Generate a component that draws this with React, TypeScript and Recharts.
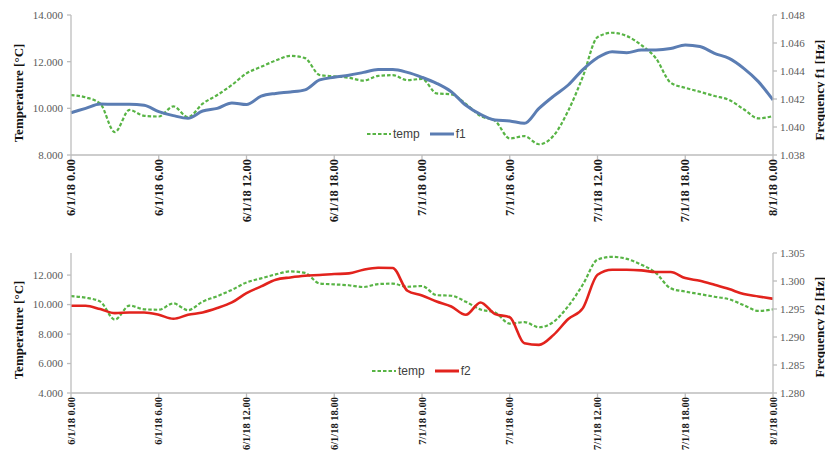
import React from "react";
import { Label, Legend, Line, LineChart, XAxis, YAxis } from "recharts";

const hours = [
  0, 1, 2, 3, 4, 5, 6, 7, 8, 9, 10, 11, 12, 13, 14, 15, 16, 17, 18, 19, 20, 21, 22, 23, 24,
  25, 26, 27, 28, 29, 30, 31, 32, 33, 34, 35, 36, 37, 38, 39, 40, 41, 42, 43, 44, 45, 46, 47, 48,
];

const temp = [
  10.57, 10.47, 10.2, 8.98, 9.93, 9.68, 9.65, 10.08, 9.62, 10.2, 10.57, 11.0, 11.5, 11.78, 12.05,
  12.25, 12.15, 11.43, 11.37, 11.31, 11.19, 11.39, 11.42, 11.21, 11.26, 10.64, 10.6, 10.19, 9.67,
  9.46, 8.71, 8.81, 8.46, 8.83, 9.9, 11.36, 13.05, 13.24, 13.1, 12.71, 12.14, 11.1, 10.88, 10.71,
  10.53, 10.36, 9.96, 9.57, 9.67,
];

const f1 = [
  1.04102, 1.04133, 1.04164, 1.04162, 1.04162, 1.04155, 1.0411, 1.04081, 1.04062, 1.04114, 1.04133,
  1.04172, 1.0416, 1.0422, 1.0424, 1.0425, 1.04265, 1.04336, 1.04355, 1.0437, 1.0439, 1.0441,
  1.0441, 1.0439, 1.04355, 1.04312, 1.04252, 1.04155, 1.0409, 1.0405, 1.04043, 1.04026, 1.04133,
  1.04221, 1.043, 1.0441, 1.04495, 1.04538, 1.04531, 1.0455, 1.0455, 1.0456, 1.04586, 1.04575,
  1.04526, 1.0449, 1.04419, 1.04324, 1.04193,
];

const f2 = [
  1.29557, 1.29557, 1.29498, 1.29426, 1.29438, 1.29438, 1.29396, 1.29325, 1.29396, 1.29438, 1.29516,
  1.29617, 1.29784, 1.29903, 1.30023, 1.30064, 1.30094, 1.30106, 1.30124, 1.30136, 1.30202, 1.30237,
  1.30231, 1.29826, 1.29742, 1.29635, 1.29545, 1.29396, 1.29617, 1.29408, 1.29354, 1.28889,
  1.28859, 1.29038, 1.2932, 1.29516, 1.30112, 1.30202, 1.30202, 1.3019, 1.3016, 1.3016, 1.30052,
  1.30005, 1.29933, 1.29856, 1.29766, 1.29724, 1.29683,
];

const xTicks = [0, 6, 12, 18, 24, 30, 36, 42, 48];
const xTickLabels = [
  "6/1/18 0.00",
  "6/1/18 6.00",
  "6/1/18 12.00",
  "6/1/18 18.00",
  "7/1/18 0.00",
  "7/1/18 6.00",
  "7/1/18 12.00",
  "7/1/18 18.00",
  "8/1/18 0.00",
];

const tempTicksTop = [8, 10, 12, 14];
const f1Ticks = [1.038, 1.04, 1.042, 1.044, 1.046, 1.048];
const tempTicksBottom = [4, 6, 8, 10, 12];
const f2Ticks = [1.28, 1.285, 1.29, 1.295, 1.3, 1.305];

const data = hours.map((h, i) => ({ h, temp: temp[i], f1: f1[i], f2: f2[i] }));

const AXIS = "#bdbdbd";
const GREEN = "#58b445";
const BLUE = "#5b7db3";
const RED = "#e2231d";
const SERIF = "'Liberation Serif', 'Times New Roman', serif";

const yTick = { fontFamily: SERIF, fontSize: 11, fill: "#5a5a5a" };

function makeXTick(fontSize: number) {
  return (props: any) => {
    const { x, y, payload } = props;
    const idx = xTicks.indexOf(payload.value);
    return (
      <text
        x={x}
        y={y}
        transform={`rotate(-90 ${x} ${y})`}
        textAnchor="end"
        dominantBaseline="central"
        fontFamily={SERIF}
        fontWeight="bold"
        fontSize={fontSize}
        fill="#1a1a1a"
      >
        {xTickLabels[idx]}
      </text>
    );
  };
}

function vTitle(x: number, y: number, text: string) {
  return () => (
    <text
      x={x}
      y={y}
      transform={`rotate(-90 ${x} ${y})`}
      textAnchor="middle"
      dominantBaseline="central"
      fontFamily={SERIF}
      fontWeight="bold"
      fontSize={13}
      fill="#111"
    >
      {text}
    </text>
  );
}

function legendContent(props: any) {
  const items = [...(props.payload || [])].sort(
    (a: any, b: any) => (a.dataKey === "temp" ? 0 : 1) - (b.dataKey === "temp" ? 0 : 1)
  );
  return (
    <div style={{ display: "flex", alignItems: "center", fontFamily: "'Liberation Sans', Arial, sans-serif", fontSize: 12, color: "#404040" }}>
      {items.map((entry: any) => (
        <div key={entry.value} style={{ display: "flex", alignItems: "center", marginRight: 9 }}>
          <svg width={26} height={10}>
            <line
              x1={1}
              y1={5}
              x2={25}
              y2={5}
              stroke={entry.color}
              strokeWidth={entry.dataKey === "temp" ? 2.2 : 3}
              strokeDasharray={entry.dataKey === "temp" ? "3.5 2" : undefined}
            />
          </svg>
          <span style={{ marginLeft: 1 }}>{entry.value}</span>
        </div>
      ))}
    </div>
  );
}

export default function App() {
  return (
    <div style={{ position: "absolute", left: 0, top: 0, width: 825, height: 453, background: "#fff", overflow: "hidden" }}>
      <div style={{ position: "absolute", left: 0, top: 0 }}>
        <LineChart width={825} height={225} data={data} margin={{ top: 15, right: 0, bottom: 0, left: 0 }}>
          <XAxis
            dataKey="h"
            type="number"
            domain={[0, 48]}
            ticks={xTicks}
            height={70}
            stroke={AXIS}
            strokeWidth={1.3}
            tickSize={4}
            tickMargin={0}
            tick={makeXTick(12.5)}
            interval={0}
          />
          <YAxis
            yAxisId="t"
            domain={[8, 14]}
            ticks={tempTicksTop}
            width={71}
            stroke={AXIS}
            strokeWidth={1.3}
            tickSize={4}
            tickMargin={4}
            tick={yTick}
            tickFormatter={(v: number) => v.toFixed(3)}
            interval={0}
          >
            <Label content={vTitle(18, 93, "Temperature [°C]")} />
          </YAxis>
          <YAxis
            yAxisId="f"
            orientation="right"
            domain={[1.038, 1.048]}
            ticks={f1Ticks}
            width={52}
            stroke={AXIS}
            strokeWidth={1.3}
            tickSize={4}
            tickMargin={3}
            tick={yTick}
            tickFormatter={(v: number) => v.toFixed(3)}
            interval={0}
          >
            <Label content={vTitle(819, 90, "Frequency f1 [Hz]")} />
          </YAxis>
          <Legend
            layout="horizontal"
            verticalAlign="middle"
            align="center"
            content={legendContent}
            wrapperStyle={{ left: 366, top: 127, width: "auto" }}
          />
          <Line
            yAxisId="t"
            type="monotone"
            dataKey="temp"
            name="temp"
            stroke={GREEN}
            strokeWidth={2.2}
            strokeDasharray="3.5 2"
            dot={false}
            isAnimationActive={false}
          />
          <Line
            yAxisId="f"
            type="monotone"
            dataKey="f1"
            name="f1"
            stroke={BLUE}
            strokeWidth={3}
            dot={false}
            isAnimationActive={false}
          />
        </LineChart>
      </div>
      <div style={{ position: "absolute", left: 0, top: 230 }}>
        <LineChart width={825} height={223} data={data} margin={{ top: 23, right: 0, bottom: 0, left: 0 }}>
          <XAxis
            dataKey="h"
            type="number"
            domain={[0, 48]}
            ticks={xTicks}
            height={60}
            stroke={AXIS}
            strokeWidth={1.3}
            tickSize={4}
            tickMargin={0}
            tick={makeXTick(10.5)}
            interval={0}
          />
          <YAxis
            yAxisId="t"
            domain={[4, 13.5]}
            ticks={tempTicksBottom}
            width={71}
            stroke={AXIS}
            strokeWidth={1.3}
            tickSize={4}
            tickMargin={4}
            tick={yTick}
            tickFormatter={(v: number) => v.toFixed(3)}
            interval={0}
          >
            <Label content={vTitle(18, 100, "Temperature [°C]")} />
          </YAxis>
          <YAxis
            yAxisId="f"
            orientation="right"
            domain={[1.28, 1.305]}
            ticks={f2Ticks}
            width={52}
            stroke={AXIS}
            strokeWidth={1.3}
            tickSize={4}
            tickMargin={3}
            tick={yTick}
            tickFormatter={(v: number) => v.toFixed(3)}
            interval={0}
          >
            <Label content={vTitle(819, 97, "Frequency f2 [Hz]")} />
          </YAxis>
          <Legend
            layout="horizontal"
            verticalAlign="middle"
            align="center"
            content={legendContent}
            wrapperStyle={{ left: 371, top: 134, width: "auto" }}
          />
          <Line
            yAxisId="t"
            type="monotone"
            dataKey="temp"
            name="temp"
            stroke={GREEN}
            strokeWidth={2.2}
            strokeDasharray="3.5 2"
            dot={false}
            isAnimationActive={false}
          />
          <Line
            yAxisId="f"
            type="monotone"
            dataKey="f2"
            name="f2"
            stroke={RED}
            strokeWidth={2.6}
            dot={false}
            isAnimationActive={false}
          />
        </LineChart>
      </div>
    </div>
  );
}
